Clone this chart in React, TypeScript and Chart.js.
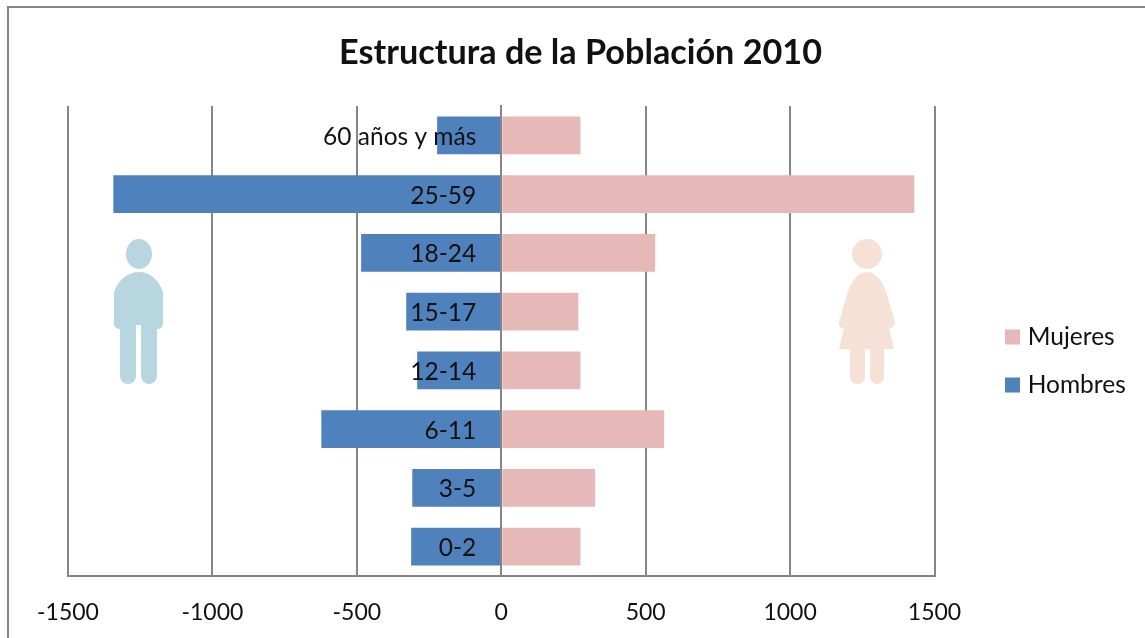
import React, { useEffect, useRef } from "react";
import { Chart, registerables } from "chart.js";

Chart.register(...registerables);

const categories = ["60 años y más", "25-59", "18-24", "15-17", "12-14", "6-11", "3-5", "0-2"];
const hombres = [-222, -1343, -485, -329, -291, -623, -308, -312];
const mujeres = [274, 1430, 533, 267, 274, 564, 325, 274];
const axisTicks = [-1500, -1000, -500, 0, 500, 1000, 1500];
const titleText = "Estructura de la Población 2010";

const FONT = "Lato, Carlito, Calibri, sans-serif";
const GREY = "#868686";
const INK = "#111111";

function drawFigures(ctx: CanvasRenderingContext2D) {
  // man
  ctx.fillStyle = "#B7D6DF";
  ctx.beginPath();
  ctx.ellipse(139, 254, 13, 15, 0, 0, Math.PI * 2);
  ctx.fill();
  ctx.beginPath();
  ctx.moveTo(114, 292);
  ctx.bezierCurveTo(118, 280, 128, 272, 139, 272);
  ctx.bezierCurveTo(150, 272, 159, 280, 163, 292);
  ctx.lineTo(163, 323);
  ctx.quadraticCurveTo(163, 329, 157, 329);
  ctx.lineTo(157, 325);
  ctx.lineTo(120, 325);
  ctx.lineTo(120, 329);
  ctx.quadraticCurveTo(114, 329, 114, 323);
  ctx.closePath();
  ctx.fill();
  ctx.beginPath();
  ctx.roundRect(120, 320, 16, 64, [0, 0, 8, 8]);
  ctx.roundRect(141, 320, 16, 64, [0, 0, 8, 8]);
  ctx.fill();

  // woman
  ctx.fillStyle = "#F5E1D5";
  ctx.beginPath();
  ctx.arc(867, 254, 15, 0, Math.PI * 2);
  ctx.fill();
  ctx.beginPath();
  ctx.moveTo(867, 272);
  ctx.bezierCurveTo(877, 272, 884, 284, 887, 295);
  ctx.lineTo(895, 322);
  ctx.quadraticCurveTo(895, 328, 889, 328);
  ctx.lineTo(894, 349);
  ctx.lineTo(839, 349);
  ctx.lineTo(844, 328);
  ctx.quadraticCurveTo(838, 328, 839, 322);
  ctx.lineTo(847, 295);
  ctx.bezierCurveTo(850, 284, 857, 272, 867, 272);
  ctx.closePath();
  ctx.fill();
  ctx.beginPath();
  ctx.roundRect(850, 345, 15, 39, [0, 0, 7, 7]);
  ctx.roundRect(870, 345, 14, 39, [0, 0, 7, 7]);
  ctx.fill();
}

const LABEL_SHIFT_X = 25;
const LABEL_SHIFT_Y = 1.5;

const decor = {
  id: "decor",
  afterLayout(chart: any) {
    const t = chart.titleBlock;
    if (t) {
      t.left = 280.5;
      t.right = 880.5;
      t.width = 600;
    }
    const l = chart.legend;
    if (l) {
      const h = l.height;
      const w = l.width;
      const pad = l.options.labels.padding;
      l.left = 1009.5 - pad;
      l.right = l.left + w;
      l.top = 361 - h / 2;
      l.bottom = l.top + h;
    }
    // category labels sit a little left of the zero line
    const y = chart.scales.y;
    if (y && !y.__shifted) {
      y.__shifted = true;
      const orig = y._computeLabelItems.bind(y);
      y._computeLabelItems = (area: any) =>
        orig(area).map((item: any) => ({
          ...item,
          options: {
            ...item.options,
            translation: [
              item.options.translation[0] - LABEL_SHIFT_X,
              item.options.translation[1] + LABEL_SHIFT_Y,
            ],
          },
        }));
      y._labelItems = null;
    }
  },
  beforeDraw(chart: any) {
    const ctx = chart.ctx;
    ctx.save();
    ctx.fillStyle = GREY;
    ctx.fillRect(7, 6, 1138, 2);
    ctx.fillRect(7, 6, 2, 632);
    drawFigures(ctx);
    ctx.restore();
  },
};

export default function App() {
  const ref = useRef<HTMLCanvasElement>(null);
  useEffect(() => {
    const chart = new Chart(ref.current!, {
      type: "bar",
      data: {
        labels: categories,
        datasets: [
          { label: "Hombres", data: hombres, backgroundColor: "#4F81BD", borderWidth: 0 },
          { label: "Mujeres", data: mujeres, backgroundColor: "#E6B9B8", borderWidth: 0 },
        ],
      },
      plugins: [decor],
      options: {
        indexAxis: "y",
        responsive: false,
        animation: false,
        layout: { padding: { left: 68, right: 60.7, top: 0, bottom: 0 } },
        datasets: { bar: { categoryPercentage: 1, barPercentage: 0.64 } },
        scales: {
          x: {
            stacked: true,
            min: -1500,
            max: 1500,
            afterBuildTicks: (s: any) => {
              s.ticks = axisTicks.map((value) => ({ value }));
            },
            grid: { color: GREY, lineWidth: 2, drawTicks: false },
            border: { color: GREY, width: 2 },
            ticks: {
              color: INK,
              font: { family: FONT, size: 23 },
              padding: 23,
              maxRotation: 0,
              callback: (v: any) => String(v),
            },
            afterFit: (s: any) => {
              s.height = 62;
            },
          },
          y: {
            stacked: true,
            position: { x: 0 } as any,
            grid: { display: false, drawTicks: false },
            border: { color: GREY, width: 2, z: 1 },
            ticks: {
              z: 2,
              color: INK,
              font: { family: FONT, size: 24.5 },
              autoSkip: false,
            },
          },
        },
        plugins: {
          tooltip: { enabled: false },
          title: {
            display: true,
            text: titleText,
            color: INK,
            font: { family: FONT, size: 34.2, weight: "bold" },
            padding: { top: 32.5, bottom: 32.5 },
          },
          legend: {
            display: true,
            position: "right",
            reverse: true,
            labels: {
              color: INK,
              font: { family: FONT, size: 24.5 },
              boxWidth: 6,
              boxHeight: 6,
              padding: 23.5,
              generateLabels: (c: any) =>
                Chart.defaults.plugins.legend.labels.generateLabels(c).map((it: any) => ({
                  ...it,
                  strokeStyle: it.fillStyle,
                  lineWidth: 9,
                })),
            },
          },
        },
      },
    } as any);
    return () => chart.destroy();
  }, []);
  return (
    <canvas
      ref={ref}
      width={1145}
      height={638}
      style={{ position: "absolute", left: 0, top: 0, display: "block" }}
    />
  );
}
